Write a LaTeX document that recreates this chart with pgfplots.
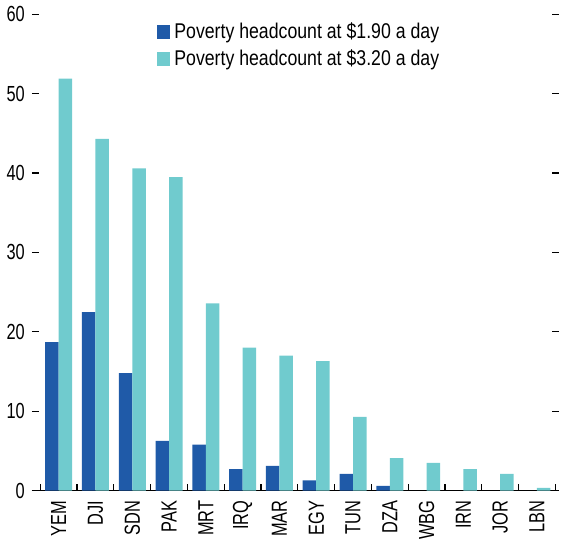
\documentclass[border=0pt]{standalone}
\usepackage{fontspec}
\setmainfont{Liberation Sans}[FakeStretch=0.83]
\newfontfamily\tickfont{Liberation Sans}[FakeStretch=0.75]
\usepackage{pgfplots}
\pgfplotsset{compat=1.18}
\definecolor{povdark}{RGB}{31,90,168}
\definecolor{povlight}{RGB}{112,203,206}

\begin{document}
\begin{tikzpicture}
  \begin{axis}[
      scale only axis, width=265.5pt, height=240pt,
      xmin=-0.73, xmax=13.59, ymin=0, ymax=60,
      ybar=0pt, bar width=6.8pt,
      axis line style={draw=none},
      tick align=inside, ytick pos=both, xtick pos=bottom,
      major tick length=3.5pt,
      ytick={0,10,...,60},
      % ticks sit at the group boundaries, labels are moved half a group right
      xtick={-0.5,0.5,...,12.5},
      xticklabels={YEM,DJI,SDN,PAK,MRT,IRQ,MAR,EGY,TUN,DZA,WBG,IRN,JOR,LBN},
      xticklabel style={xshift=9.27pt, yshift=-1.5pt, rotate=90, anchor=east},
      extra x ticks={13.5}, extra x tick labels={},
      extra x tick style={xticklabel style={yshift=9.27pt}},
      extra y ticks={0}, extra y tick labels={},
      extra y tick style={ymajorgrids=true,
        major grid style={black, line width=0.7pt}},
      xtick style={black, line width=0.6pt},
      ytick style={black, line width=0.6pt},
      /pgf/number format/assume math mode=true,
      tick label style={font=\fontsize{11}{12}\tickfont},
      legend style={draw=none, fill=none, at={(0.509,1.0)}, anchor=north,
        font=\fontsize{10.75}{12}\selectfont, cells={anchor=west},
        row sep=0pt},
      legend image code/.code={\fill[#1] (0pt,-3.4pt) rectangle (6.8pt,3.4pt);},
    ]
    \addplot[fill=povdark, draw=none] coordinates {
      (0,18.7) (1,22.5) (2,14.8) (3,6.25) (4,5.8) (5,2.7) (6,3.1)
      (7,1.3) (8,2.1) (9,0.6)};
    \addlegendentry{Poverty headcount at \$1.90 a day}
    \addplot[fill=povlight, draw=none] coordinates {
      (0,51.9) (1,44.3) (2,40.6) (3,39.5) (4,23.6) (5,18.0) (6,17.0)
      (7,16.3) (8,9.3) (9,4.1) (10,3.5) (11,2.7) (12,2.1) (13,0.35)};
    \addlegendentry{Poverty headcount at \$3.20 a day}
  \end{axis}
\end{tikzpicture}
\end{document}
